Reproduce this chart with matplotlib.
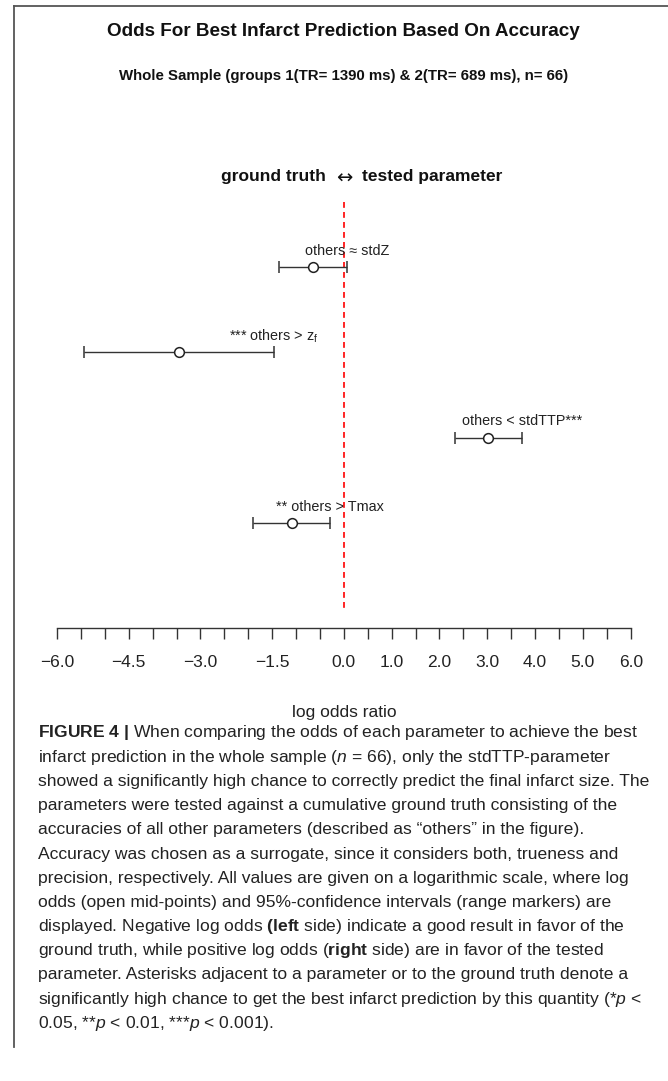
import numpy as np
import matplotlib.pyplot as plt

plt.rcParams['font.family'] = ['Liberation Sans', 'DejaVu Sans']
plt.rcParams['mathtext.fontset'] = 'custom'
plt.rcParams['mathtext.rm'] = 'Liberation Sans'
plt.rcParams['mathtext.it'] = 'Liberation Sans:italic'
plt.rcParams['mathtext.bf'] = 'Liberation Sans:bold'

# log odds with 95% confidence intervals, one row per tested parameter
labels = ["others \u2248 stdZ", r"*** others > $\mathrm{z_f}$",
          "others < stdTTP***", "** others > Tmax"]
log_odds = [-0.64, -3.45, 3.02, -1.09]
ci_low = [-1.36, -5.44, 2.32, -1.90]
ci_high = [0.06, -1.46, 3.72, -0.29]

tick_values = np.arange(-6.0, 6.01, 0.5)
labelled = [-6.0, -4.5, -3.0, -1.5, 0.0, 1.0, 2.0, 3.0, 4.0, 5.0, 6.0]

caption = [
    r"$\mathbf{FIGURE\ 4\ |}$ When comparing the odds of each parameter to achieve the best",
    r"infarct prediction in the whole sample ($\mathit{n}$ = 66), only the stdTTP-parameter",
    "showed a significantly high chance to correctly predict the final infarct size. The",
    "parameters were tested against a cumulative ground truth consisting of the",
    "accuracies of all other parameters (described as \u201cothers\u201d in the figure).",
    "Accuracy was chosen as a surrogate, since it considers both, trueness and",
    "precision, respectively. All values are given on a logarithmic scale, where log",
    "odds (open mid-points) and 95%-confidence intervals (range markers) are",
    r"displayed. Negative log odds $\mathbf{(left}$ side) indicate a good result in favor of the",
    r"ground truth, while positive log odds ($\mathbf{right}$ side) are in favor of the tested",
    "parameter. Asterisks adjacent to a parameter or to the ground truth denote a",
    r"significantly high chance to get the best infarct prediction by this quantity (*$\mathit{p}$ <",
    r"0.05, **$\mathit{p}$ < 0.01, ***$\mathit{p}$ < 0.001).",
]

W, H = 668, 1081
fig = plt.figure(figsize=(W / 100, H / 100), dpi=100)

def fx(px):
    return px / W

def fy(py):
    return 1 - py / H

# frame lines on the left and top
fig.add_artist(plt.Line2D([fx(14), fx(14)], [fy(6), fy(1047)], color='#555555', lw=1.3))
fig.add_artist(plt.Line2D([fx(14), 1.0], [fy(6), fy(6)], color='#555555', lw=1.3))

fig.text(fx(343), fy(32), "Odds For Best Infarct Prediction Based On Accuracy",
         ha='center', va='center', fontsize=13.6, fontweight='bold', color='#111111')
fig.text(fx(344), fy(76), "Whole Sample (groups 1(TR= 1390 ms) & 2(TR= 689 ms), n= 66)",
         ha='center', va='center', fontsize=10.8, fontweight='bold', color='#111111')

# heading above the plot, with a thin arrow sitting on the zero line
fig.text(fx(326), fy(177), "ground truth", ha='right', va='center',
         fontsize=12.5, fontweight='bold', color='#111111')
fig.text(fx(344), fy(178), "\u2194", ha='center', va='center',
         fontsize=14, family=['DejaVu Sans'], color='#111111')
fig.text(fx(362), fy(177), "tested parameter", ha='left', va='center',
         fontsize=12.5, fontweight='bold', color='#111111')

ax = fig.add_axes([fx(57), fy(628.3), fx(630.7) - fx(57), (628.3 - 200) / H])
ax.set_xlim(-6, 6)
ax.set_ylim(5.234, 0.215)
ax.patch.set_alpha(0)
for s in ['left', 'right', 'top']:
    ax.spines[s].set_visible(False)
ax.spines['bottom'].set_color('#333333')
ax.spines['bottom'].set_linewidth(1.0)
ax.set_yticks([])

ax.set_xticks(tick_values)
ax.set_xticklabels([("%.1f" % v).replace('-', '\u2212') if np.round(v, 1) in labelled else ""
                    for v in tick_values])
ax.tick_params(axis='x', direction='out', length=8, width=1.0, color='#333333',
               labelsize=12.5, labelcolor='#222222', pad=11)

ax.vlines(0, 0.24, 5.0, colors='red', linestyles=(0, (3.5, 2.5)), lw=1.2)

rows = np.arange(1, len(labels) + 1)
ax.errorbar(log_odds, rows,
            xerr=[np.array(log_odds) - np.array(ci_low), np.array(ci_high) - np.array(log_odds)],
            fmt='o', mfc='white', mec='#222222', ms=7, mew=1.1,
            ecolor='#333333', elinewidth=1.0, capsize=4.5, capthick=1.0, clip_on=False)

for lab, hi, r in zip(labels, ci_high, rows):
    ax.text(hi, r - 0.19, lab, ha='center', va='center', fontsize=10.4, color='#222222')

fig.text(fx(344), fy(713), "log odds ratio", ha='center', va='center',
         fontsize=12.5, color='#222222')

for i, line in enumerate(caption):
    fig.text(fx(38), fy(733 + i * 24.2), line, ha='left', va='center',
             fontsize=12.6, color='#222222')

fig.savefig('out.png', dpi=100)
